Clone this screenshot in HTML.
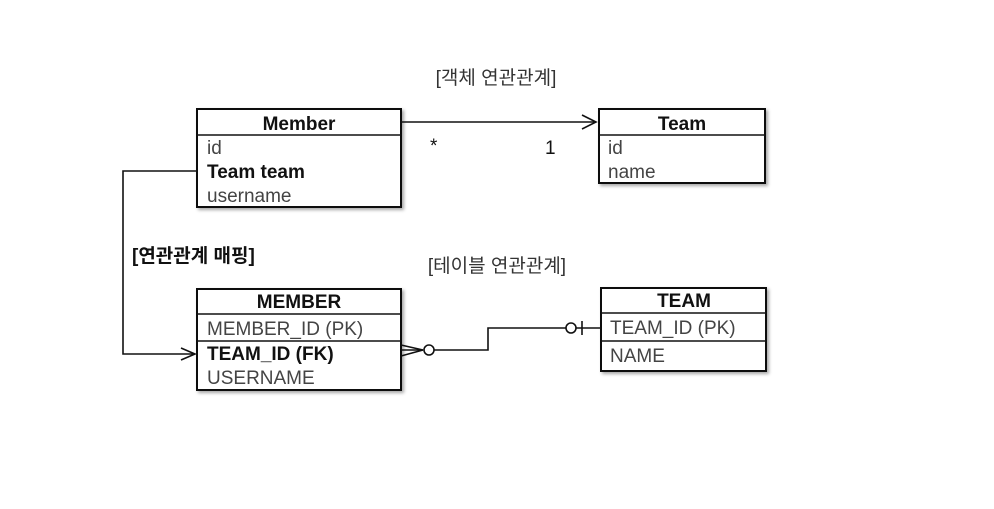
<!DOCTYPE html>
<html><head><meta charset="utf-8"><style>
html,body{margin:0;padding:0;background:#fff;}
svg text{font-family:"Liberation Sans","Noto Sans CJK KR",sans-serif;}
</style></head><body>
<svg width="994" height="504" viewBox="0 0 994 504" xmlns="http://www.w3.org/2000/svg">
<defs><filter id="sh" x="-5%" y="-5%" width="115%" height="120%"><feDropShadow dx="2" dy="2" stdDeviation="1.5" flood-color="#000" flood-opacity="0.35"/></filter></defs>
<g fill="#fff" stroke="#111" stroke-width="2" filter="url(#sh)">
<rect x="197" y="109" width="204" height="98"/>
<rect x="599" y="109" width="166" height="74"/>
<rect x="197" y="289" width="204" height="101"/>
<rect x="601" y="288" width="165" height="83"/>
</g>
<g stroke="#111" stroke-width="1.6" fill="none">
<line x1="197" y1="135" x2="401" y2="135"/>
<line x1="599" y1="135" x2="765" y2="135"/>
<line x1="197" y1="314" x2="401" y2="314"/>
<line x1="197" y1="341" x2="401" y2="341"/>
<line x1="601" y1="313" x2="766" y2="313"/>
<line x1="601" y1="341" x2="766" y2="341"/>
<line x1="401" y1="122" x2="596" y2="122"/>
<polyline points="582,115 596,122 582,129"/>
<polyline points="197,171 123,171 123,354 195,354"/>
<polyline points="181,348 195,354 181,360"/>
<polyline points="401,345 423,350 401,356"/>
<line x1="401" y1="350" x2="423" y2="350"/>
<circle cx="429" cy="350" r="5"/>
<polyline points="434,350 488,350 488,328 566,328"/>
<circle cx="571" cy="328" r="5"/>
<line x1="576" y1="328" x2="601" y2="328"/>
<line x1="582" y1="321" x2="582" y2="335"/>
</g>
<g fill="#111" font-size="19">
<text x="496" y="84" text-anchor="middle" fill="#333">[객체 연관관계]</text>
<text x="497" y="272" text-anchor="middle" fill="#333">[테이블 연관관계]</text>
<text x="132" y="262" font-weight="bold" font-size="19">[연관관계 매핑]</text>
<text x="299" y="130" text-anchor="middle" font-weight="bold">Member</text>
<text x="207" y="154" fill="#444">id</text>
<text x="207" y="178" font-weight="bold">Team team</text>
<text x="207" y="202" fill="#444">username</text>
<text x="682" y="130" text-anchor="middle" font-weight="bold">Team</text>
<text x="608" y="154" fill="#444">id</text>
<text x="608" y="178" fill="#444">name</text>
<text x="430" y="152">*</text>
<text x="545" y="154">1</text>
<text x="299" y="308" text-anchor="middle" font-weight="bold">MEMBER</text>
<text x="207" y="335" fill="#444">MEMBER_ID (PK)</text>
<text x="207" y="360" font-weight="bold">TEAM_ID (FK)</text>
<text x="207" y="384" fill="#444">USERNAME</text>
<text x="684" y="307" text-anchor="middle" font-weight="bold">TEAM</text>
<text x="610" y="334" fill="#444">TEAM_ID (PK)</text>
<text x="610" y="362" fill="#444">NAME</text>
</g>
</svg>
</body></html>
